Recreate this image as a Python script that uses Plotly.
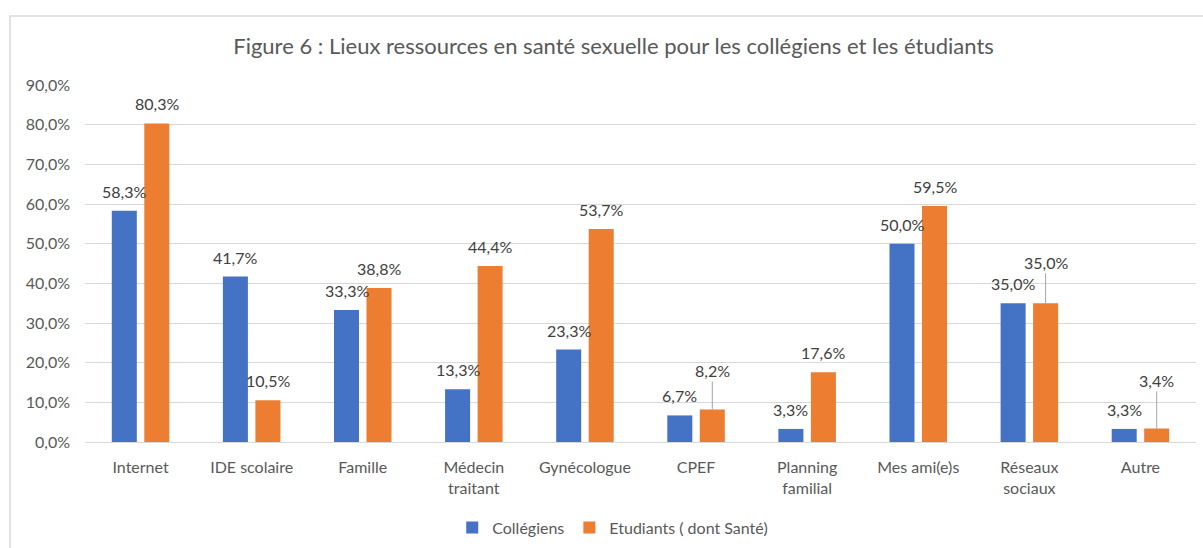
import plotly.graph_objects as go

categories = ["Internet", "IDE scolaire", "Famille", "Médecin<br>traitant", "Gynécologue",
              "CPEF", "Planning<br>familial", "Mes ami(e)s", "Réseaux<br>sociaux", "Autre"]
collegiens = [58.3, 41.7, 33.3, 13.3, 23.3, 6.7, 3.3, 50.0, 35.0, 3.3]
etudiants = [80.3, 10.5, 38.8, 44.4, 53.7, 8.2, 17.6, 59.5, 35.0, 3.4]
series_names = ["Collégiens", "Etudiants ( dont Santé)"]
colors = ["#4472C4", "#ED7D31"]
# label leader-line offsets (px) for orange labels moved away by hand in the source
leader_offsets = {5: 39, 8: 41, 9: 48}

FONT = "Lato"
TXT = "#595959"
LBL = "#404040"
FS = 16

def fmt(v):
    return f"{v:.1f}".replace(".", ",") + "%"

fig = go.Figure()
for name, vals, col in zip(series_names, [collegiens, etudiants], colors):
    fig.add_trace(go.Bar(x=categories, y=vals, name=name, marker_color=col,
                         marker_line_width=0, hoverinfo="skip"))

annotations = []
shift = 16.25
for i, cat in enumerate(categories):
    annotations.append(dict(x=cat, y=collegiens[i], xref="x", yref="y", text=fmt(collegiens[i]),
                            showarrow=False, xshift=-shift, yanchor="bottom", yshift=8,
                            font=dict(family=FONT, size=FS, color=LBL)))
    if i in leader_offsets:
        annotations.append(dict(x=cat, y=etudiants[i], xref="x", yref="y", text=fmt(etudiants[i]),
                                showarrow=True, arrowhead=0, arrowwidth=1, arrowcolor="#A6A6A6",
                                ax=0, ay=-leader_offsets[i], xshift=shift,
                                font=dict(family=FONT, size=FS, color=LBL)))
    else:
        annotations.append(dict(x=cat, y=etudiants[i], xref="x", yref="y", text=fmt(etudiants[i]),
                                showarrow=False, xshift=shift, yanchor="bottom", yshift=8,
                                font=dict(family=FONT, size=FS, color=LBL)))

fig.update_layout(
    width=1203, height=548,
    margin=dict(l=85, r=7, t=85, b=106, autoexpand=False),
    paper_bgcolor="white", plot_bgcolor="white",
    separators=",.",
    font=dict(family=FONT, size=FS, color=TXT),
    title=dict(text="Figure 6 : Lieux ressources en santé sexuelle pour les collégiens et les étudiants",
               x=0.510, xanchor="center", y=0.915, yanchor="middle",
               font=dict(family=FONT, size=22, color=TXT)),
    barmode="group", bargap=0.415, bargroupgap=0.23,
    showlegend=True,
    legend=dict(orientation="h", x=0.475, xanchor="center", y=-0.24, yanchor="middle",
                font=dict(family=FONT, size=FS, color=TXT), itemclick=False),
    annotations=annotations,
    shapes=[dict(type="rect", xref="paper", yref="paper", x0=-0.0675, x1=1.03, y0=-0.4, y1=1.1933,
                 line=dict(color="#D9D9D9", width=1.5), fillcolor="rgba(0,0,0,0)", layer="below")],
)
fig.update_yaxes(range=[0, 90], dtick=10, tickformat=".1f", ticksuffix="%", automargin=False,
                 showgrid=True, gridcolor="#D9D9D9", gridwidth=1, zeroline=False,
                 showline=False, ticks="", ticklabelstandoff=14,
                 tickfont=dict(family=FONT, size=FS, color=TXT))
fig.update_xaxes(showline=True, linecolor="#D9D9D9", linewidth=1, ticks="", automargin=False,
                 ticklabelstandoff=11, tickfont=dict(family=FONT, size=FS, color=TXT))

fig.write_html("out.html", config={"displayModeBar": False},
               post_script="document.body.style.margin='0';document.body.style.overflow='hidden';")
